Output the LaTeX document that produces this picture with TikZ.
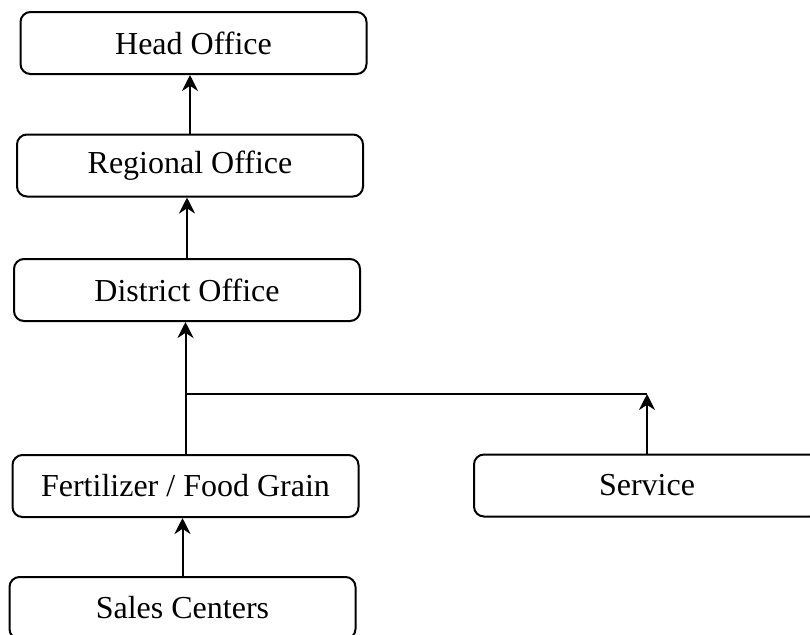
\documentclass[tikz,border=0pt]{standalone}
\usepackage{fontspec}
\setmainfont{Liberation Serif}
\usepackage{tikz}
\usetikzlibrary{arrows.meta}

\begin{document}
\begin{tikzpicture}[x=0.5pt, y=-0.5pt, align=center,
		office/.style={draw, rounded corners=5pt, line width=1pt, minimum width=173pt, minimum height=31pt, inner sep=0pt, font=\fontsize{16}{19}\selectfont},
		link/.style={line width=1pt, -{Stealth[length=8pt, width=8pt, inset=2.6pt]}}]
		\useasboundingbox (0,0) rectangle (810,634);
		\node (head) at (193.5, 43) [office] {Head Office};
		\node (regional) at (190, 165.5) [office] {Regional Office};
		\node (district) at (187, 290) [office] {District Office};
		\node (fertilizer) at (185.5, 486) [office] {Fertilizer / Food Grain};
		\node (service) at (647, 485.5) [office] {Service};
		\node (sales) at (182.5, 608) [office] {Sales Centers};
		\coordinate (join) at (fertilizer.north |- 0, 394);
		
		\draw[link] (regional.north) -- (regional.north |- head.south);
		\draw[link] (district.north) -- (district.north |- regional.south);
		\draw[link] (fertilizer.north) -- (fertilizer.north |- district.south);
		\draw[line width=1pt] (join) -- (join -| service.north);
		\draw[link] (service.north) -- (join -| service.north);
		\draw[link] (sales.north) -- (sales.north |- fertilizer.south);
		
	\end{tikzpicture}
\end{document}
